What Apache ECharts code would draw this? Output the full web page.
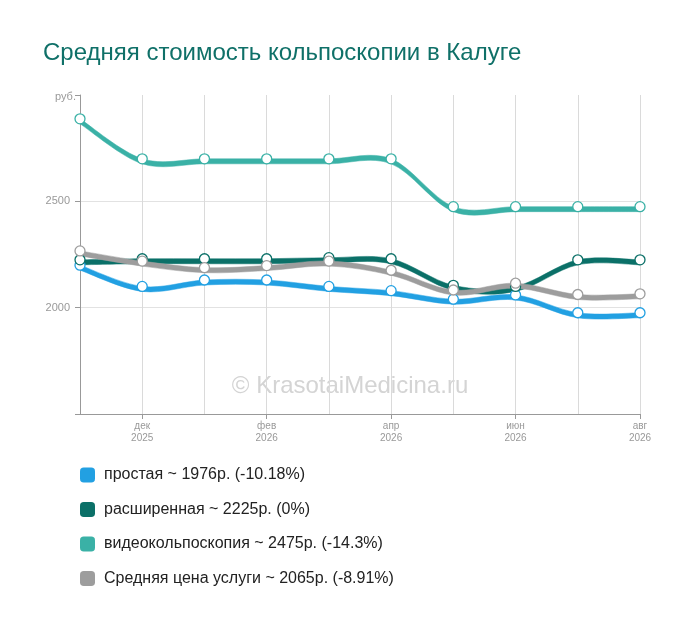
<!DOCTYPE html>
<html><head><meta charset="utf-8">
<script src="https://cdn.jsdelivr.net/npm/echarts@6/dist/echarts.min.js"></script>
<style>html,body{margin:0;padding:0;background:#fff}#c{width:700px;height:626px}</style>
</head><body><div id="c"></div>
<script>
const categories = ['ноя\n2025','дек\n2025','янв\n2026','фев\n2026','мар\n2026','апр\n2026','май\n2026','июн\n2026','июл\n2026','авг\n2026'];
const simpleValues = [2200, 2100, 2130, 2130, 2100, 2080, 2040, 2060, 1976, 1976];
const extendedValues = [2225, 2230, 2230, 2230, 2235, 2230, 2105, 2100, 2225, 2225];
const videoValues = [2888, 2700, 2700, 2700, 2700, 2700, 2475, 2475, 2475, 2475];
const averageValues = [2267, 2219, 2188, 2198, 2219, 2176, 2083, 2115, 2062, 2065];
const seriesNames = ['простая ~ 1976р. (-10.18%)','расширенная ~ 2225р. (0%)','видеокольпоскопия ~ 2475р. (-14.3%)','Средняя цена услуги ~ 2065р. (-8.91%)'];
const yTicks = {min:1500, max:3000, interval:500, unitLabel:'руб.'};

const colors = ['#22a0e2','#0b7068','#3ab1a6','#9d9d9d'];
const groups = [simpleValues, extendedValues, videoValues, averageValues];
const BAND = 5;
const FONT = '"Liberation Sans", Arial, sans-serif';

function bandRenderer(vals, color) {
  return function (params, api) {
    const i = params.dataIndex;
    const n = vals.length;
    if (i >= n - 1) return null;
    const P = (k) => api.coord([Math.max(0, Math.min(n - 1, k)), vals[Math.max(0, Math.min(n - 1, k))]]);
    const p0 = P(i - 1), p1 = P(i), p2 = P(i + 1), p3 = P(i + 2);
    const m1 = [(p2[0] - p0[0]) / 2, (p2[1] - p0[1]) / 2];
    const m2 = [(p3[0] - p1[0]) / 2, (p3[1] - p1[1]) / 2];
    const c1 = [p1[0] + m1[0] / 3, p1[1] + m1[1] / 3];
    const c2 = [p2[0] - m2[0] / 3, p2[1] - m2[1] / 3];
    const t = BAND;
    const d = 'M' + p1[0] + ' ' + p1[1] +
      ' C' + c1[0] + ' ' + c1[1] + ' ' + c2[0] + ' ' + c2[1] + ' ' + p2[0] + ' ' + p2[1] +
      ' L' + p2[0] + ' ' + (p2[1] + t) +
      ' C' + c2[0] + ' ' + (c2[1] + t) + ' ' + c1[0] + ' ' + (c1[1] + t) + ' ' + p1[0] + ' ' + (p1[1] + t) + ' Z';
    return {type: 'path', shape: {pathData: d}, style: {fill: color, stroke: color, lineWidth: 0.5}};
  };
}

const series = [];
groups.forEach((vals, i) => {
  series.push({
    name: seriesNames[i], type: 'custom', renderItem: bandRenderer(vals, colors[i]),
    data: vals.map((v, k) => [k, v]), encode: {x: 0, y: 1},
    itemStyle: {color: colors[i]}, z: 2 + i, silent: true
  });
});
groups.forEach((vals, i) => {
  series.push({
    name: 'm' + i, type: 'line', data: vals, symbol: 'circle', symbolSize: 10,
    showSymbol: true, lineStyle: {width: 0, opacity: 0},
    itemStyle: {color: '#fff', borderColor: colors[i], borderWidth: 1.3}, z: 10
  });
});

const chart = echarts.init(document.getElementById('c'), null, {renderer: 'canvas'});
chart.setOption({
  animation: false,
  title: {text: 'Средняя стоимость кольпоскопии в Калуге', left: 38, top: 36,
    textStyle: {fontFamily: FONT, fontSize: 24, fontWeight: 'normal', color: '#0f7068'}},
  grid: {left: 80, right: 60, top: 95, bottom: 212},
  legend: {
    data: seriesNames, orient: 'vertical', left: 75, top: 462, itemGap: 18.5,
    itemWidth: 15, itemHeight: 15, icon: 'roundRect',
    textStyle: {fontFamily: FONT, fontSize: 16, color: '#222', padding: [0, 0, 0, 4]}
  },
  graphic: [{type: 'text', left: 'center', top: 374, style: {text: '© KrasotaiMedicina.ru',
    font: '24px ' + FONT, fill: '#d4d4d4'}}],
  xAxis: {
    type: 'category', data: categories, boundaryGap: false,
    axisLine: {lineStyle: {color: '#999'}},
    axisTick: {show: true, alignWithLabel: true, length: 5, interval: (i) => i % 2 === 1, lineStyle: {color: '#999'}},
    axisLabel: {interval: (i) => i % 2 === 1, color: '#999', fontSize: 10, lineHeight: 12,
      fontFamily: FONT, margin: 6},
    splitLine: {show: true, interval: 0, lineStyle: {color: '#dadada'}}
  },
  yAxis: {
    type: 'value', min: yTicks.min, max: yTicks.max, interval: yTicks.interval,
    axisLine: {show: true, lineStyle: {color: '#999'}},
    axisTick: {show: true, length: 5, lineStyle: {color: '#999'}},
    axisLabel: {color: '#999', fontSize: 11, fontFamily: FONT, margin: 10,
      formatter: (v) => v === yTicks.max ? '{u|' + yTicks.unitLabel + '}' : (v === yTicks.min ? '' : String(v)),
      rich: {u: {color: '#999', fontSize: 11, fontFamily: FONT, width: 15, align: 'left', padding: [3, 0, 0, 0]}}},
    splitLine: {show: true, lineStyle: {color: ['transparent', '#e2e2e2', '#e2e2e2', 'transparent']}}
  },
  series: series
});
</script></body></html>
